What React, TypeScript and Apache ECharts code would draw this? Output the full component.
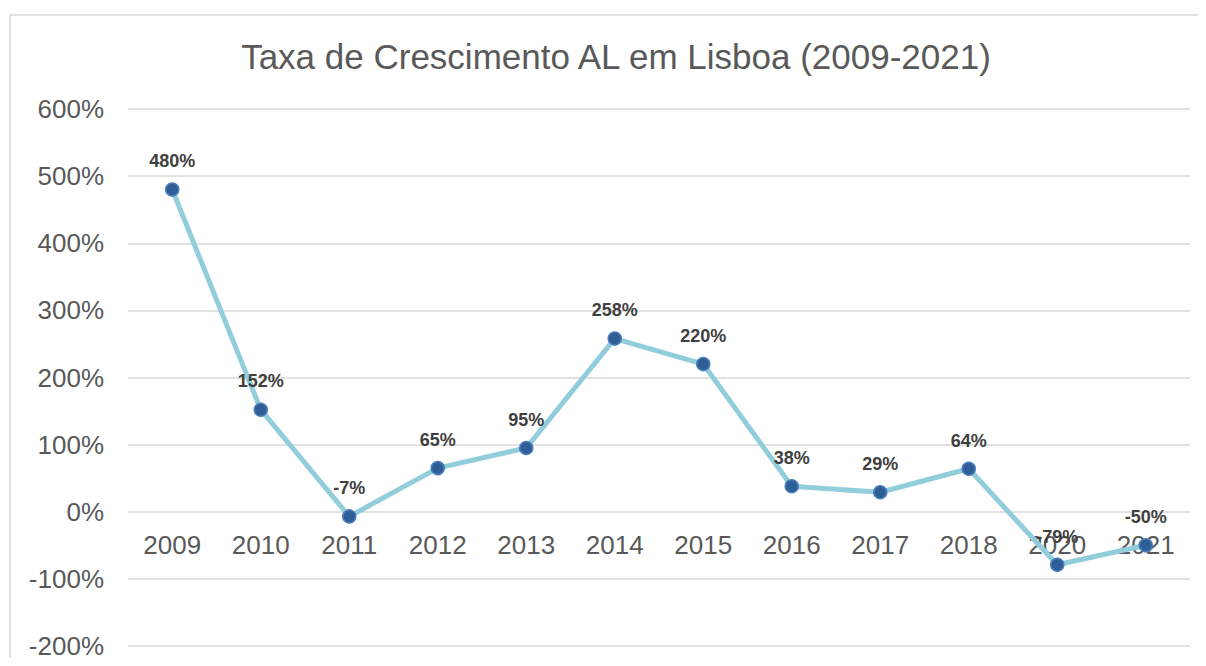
import React, { useEffect, useRef } from "react";
import * as echarts from "echarts";

const categories = ["2009", "2010", "2011", "2012", "2013", "2014", "2015", "2016", "2017", "2018", "2020", "2021"];
const growthRates = [480, 152, -7, 65, 95, 258, 220, 38, 29, 64, -79, -50];
const yTicks = { min: -200, max: 600, interval: 100 };
const titleText = "Taxa de Crescimento AL em Lisboa (2009-2021)";

const CHART_W = 1198;
const CHART_H = 650;
const GRID = { left: 120, right: 16, top: 101, bottom: 12 };

export default function App() {
  const ref = useRef<HTMLDivElement>(null);
  useEffect(() => {
    if (!ref.current) return;
    const chart = echarts.init(ref.current, undefined, { renderer: "svg" });
    const font = "'Liberation Sans', Arial, sans-serif";
    const gridH = CHART_H - GRID.top - GRID.bottom;
    // place the category axis on the 0% line (the axis crosses at zero)
    const zeroOffset = -gridH * (0 - yTicks.min) / (yTicks.max - yTicks.min);
    const frameStyle = { stroke: "#d9d9d9", lineWidth: 1.5 };
    chart.setOption({
      animation: false,
      backgroundColor: "#ffffff",
      title: {
        text: titleText,
        left: 603,
        textAlign: "center",
        top: 26,
        textStyle: { fontFamily: font, fontSize: 35, fontWeight: "normal", color: "#595959" },
      },
      graphic: [
        { type: "line", shape: { x1: 2, y1: 7, x2: CHART_W, y2: 7 }, style: frameStyle, silent: true, z: -1 },
        { type: "line", shape: { x1: 2, y1: 7, x2: 2, y2: CHART_H }, style: frameStyle, silent: true, z: -1 },
      ],
      grid: { ...GRID, containLabel: false, outerBoundsMode: "none" },
      xAxis: {
        type: "category",
        data: categories,
        boundaryGap: true,
        position: "bottom",
        offset: zeroOffset,
        axisLine: { show: false, onZero: false },
        axisTick: { show: false },
        axisLabel: { fontFamily: font, fontSize: 26, color: "#595959", margin: 20 },
        splitLine: { show: false },
      },
      yAxis: {
        type: "value",
        min: yTicks.min,
        max: yTicks.max,
        interval: yTicks.interval,
        axisLine: { show: false },
        axisTick: { show: false },
        axisLabel: {
          fontFamily: font,
          fontSize: 26,
          color: "#595959",
          margin: 24,
          formatter: (v: number) => `${v}%`,
        },
        splitLine: { lineStyle: { color: "#d9d9d9", width: 1.5 } },
      },
      series: [
        {
          type: "line",
          data: growthRates,
          symbol: "circle",
          symbolSize: 13,
          lineStyle: { color: "#92CDDC", width: 5 },
          itemStyle: { color: "#2F5E96", borderColor: "#4A7EBB", borderWidth: 1.5 },
          label: {
            show: true,
            position: "top",
            distance: 12,
            fontFamily: font,
            fontSize: 18,
            fontWeight: "bold",
            color: "#404040",
            formatter: (p: any) => `${p.value}%`,
          },
          z: 3,
        },
      ],
    });
    return () => chart.dispose();
  }, []);
  return <div ref={ref} style={{ width: CHART_W, height: CHART_H }} />;
}
